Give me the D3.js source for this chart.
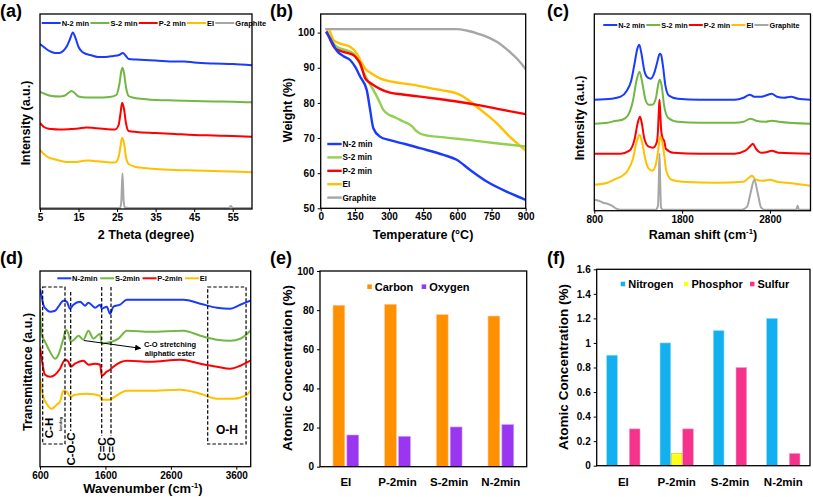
<!DOCTYPE html>
<html><head><meta charset="utf-8">
<script src="https://cdn.jsdelivr.net/npm/d3@7"></script>
<style>
body{margin:0;background:#fff}
svg text{font-family:"Liberation Sans",Arial,sans-serif;font-weight:bold;fill:#000}
</style>
</head><body>
<svg id="c" width="813" height="497"></svg>
<script>
// ---------------- DATA ----------------
const samples = ["N-2 min","S-2 min","P-2 min","EI","Graphite"];
const sampleColors = ["#1A3BFF","#72B744","#FF0000","#FFC000","#A6A6A6"];

// (a) XRD (2θ, relative intensity a.u.)
const xrdTicks = [5,15,25,35,45,55];
const xrdN = [[5,165],[6,162],[7,159],[8,157],[9,156],[10,156],[11,158],[12,163],[12.8,170],[13.5,176.5],[14.2,171],[15,162],[16,157],[17,155],[18,154],[20,152],[22,152],[24,153],[25.5,154],[26.5,156],[27.3,153],[28,150],[30,149.5],[35,148.5],[40,147.5],[42.5,147.5],[45,146.5],[50,145.5],[55,145],[60,143.7]];
const xrdS = [[5,117],[6,115.5],[8,113],[10,112.5],[11.5,113.5],[12.5,116.5],[13.2,118],[14,116],[15,112.5],[17,111.5],[20,111.5],[23,112],[24.8,114],[25.6,125],[26.1,138],[26.4,141.3],[26.8,136],[27.3,122],[28,113],[29,111.5],[32,110],[35,109],[40,108.5],[45,108],[50,107.5],[55,107.3],[60,106.7]];
const xrdP = [[5,86],[6,82],[7,80.5],[8,80],[10,79.5],[13,80],[15,80.5],[17,81.5],[19,81],[22,80],[24.5,79.5],[25.4,84],[25.9,96],[26.3,106.3],[26.8,100],[27.3,86],[28,78],[30,77],[35,76],[40,75],[45,74],[50,73.5],[55,73],[60,72.3]];
const xrdE = [[5,59],[6,55],[7,52],[8,50.5],[10,48.5],[12,47],[14,47],[16,48],[17.5,48.5],[19,48],[22,47],[24.5,46.5],[25.4,52],[25.9,63],[26.3,71.3],[26.8,66],[27.3,52],[28,45],[30,42],[32,41],[35,40],[40,39],[45,38.5],[50,38],[55,37.5],[60,36.7]];
const xrdG = [[5,1],[25.8,1],[26.1,8],[26.4,35.7],[26.7,8],[27,1.5],[28,1],[54,1],[54.5,3],[55,1],[60,1]];

// (b) TGA (°C, weight %)
const tgaTicksX = [0,150,300,450,600,750,900];
const tgaTicksY = [50,60,70,80,90,100];
const tgaN = [[23,100.2],[40,98.5],[56,96.5],[70,94.9],[100,93.3],[129,92.2],[151,90.3],[173,87.5],[202,83.7],[217,78],[231,72.8],[260,70.4],[304,69.4],[370,68.3],[436,67.1],[539,65.2],[597,63.8],[656,60.9],[729,57.6],[831,54.3],[900,52.4]];
const tgaS = [[26,100.6],[50,97.5],[70,96],[110,95],[143,94.1],[165,92],[187,88.9],[210,86],[231,83.7],[253,81],[275,78],[300,76.6],[319,76.1],[363,74.7],[400,73.4],[420,72],[436,71.3],[470,70.7],[509,70.4],[600,69.8],[656,69.4],[760,68.6],[900,67.6]];
const tgaP = [[26,100.3],[45,97.5],[63,95.5],[100,94.5],[143,93.6],[160,92.5],[173,91.3],[185,89],[195,87],[215,85.8],[231,85.1],[260,84],[304,82.9],[360,82.4],[436,81.8],[520,81.1],[597,80.4],[700,79.3],[800,78],[900,76.8]];
const tgaE = [[38,100.8],[50,98.8],[56,97.9],[90,96.8],[129,96],[158,94.1],[175,92],[195,89.8],[220,88.5],[260,87],[300,86.2],[334,85.8],[400,85.2],[480,84.2],[540,83.5],[597,82.7],[640,81.2],[685,78.9],[730,76.6],[773,74.2],[830,70.4],[900,66.4]];
const tgaG = [[20,101],[100,101],[300,101],[500,101],[597,101],[640,100.6],[685,99.8],[730,98.8],[773,97.4],[830,94.5],[870,92],[900,89.6]];

// (c) Raman (cm-1, a.u.)
const ramanTicks = [800,1800,2800];
const ramN = [[800,111],[1000,112],[1100,114],[1170,120],[1220,130],[1260,148],[1290,162],[1312,166],[1335,158],[1370,140],[1410,133],[1445,132],[1480,137],[1515,148],[1545,157],[1560,156],[1580,146],[1610,125],[1650,115],[1750,112],[2000,111],[2400,111],[2500,113],[2570,116],[2620,114],[2700,114],[2780,116],[2820,117],[2880,114],[2960,113],[3040,114],[3120,112],[3260,111]];
const ramS = [[800,87],[950,88],[1050,90],[1120,91],[1180,95],[1240,110],[1280,130],[1315,139],[1340,131],[1380,112],[1420,106],[1460,106],[1500,112],[1525,125],[1545,131],[1565,126],[1595,105],[1640,93],[1750,89],[2000,88],[2400,88],[2500,89],[2580,92],[2640,90],[2750,89],[2820,90],[2900,89],[3260,87]];
const ramP = [[800,57],[1100,57],[1200,60],[1260,72],[1295,88],[1320,94],[1340,88],[1370,72],[1420,64],[1470,63],[1510,68],[1525,80],[1535,100],[1542,111],[1550,100],[1562,80],[1580,72],[1595,70],[1615,62],[1700,58],[2000,57],[2400,57],[2520,60],[2580,65],[2605,67],[2640,62],[2700,58],[2780,59],[2820,60],[2900,58],[3260,57]];
const ramE = [[800,26],[950,28],[1050,32],[1120,35],[1180,40],[1240,52],[1280,68],[1315,76],[1345,68],[1380,52],[1420,42],[1460,40],[1500,46],[1530,62],[1550,74],[1570,70],[1590,60],[1620,40],[1680,31],[1800,29],[2200,28],[2500,29],[2560,33],[2595,35],[2640,31],[2720,30],[2800,31],[2880,29],[3000,28],[3260,25]];
const ramG = [[800,11],[850,10],[900,8],[950,7],[1000,5],[1050,2],[1100,1],[1500,1],[1525,5],[1535,30],[1542,57],[1550,30],[1560,3],[1580,1],[2480,1],[2540,4],[2580,18],[2622,31],[2660,18],[2700,3],[2740,1],[3100,1],[3115,5],[3125,2],[3140,1],[3260,1]];

// (d) FTIR (cm-1, a.u.)
const ftirNames = ["N-2min","S-2min","P-2min","EI"];
const ftirTicks = [600,1600,2600,3600];
const ftN = [[600,178],[626,170],[651,162],[702,157],[753,155],[830,156],[881,160],[957,166],[1008,165],[1059,158],[1110,162],[1212,165],[1289,161],[1340,164],[1442,159],[1518,162],[1544,158],[1620,160],[1671,153],[1722,160],[1824,162],[1927,167],[2284,167],[2794,167],[3049,163],[3304,159],[3508,158],[3661,162],[3814,166]];
const ftS = [[600,157],[626,132],[677,125],[753,115],[830,108],[881,112],[957,128],[998,137],[1034,133],[1069,125],[1120,127],[1187,131],[1263,127],[1340,136],[1416,128],[1518,133],[1544,123],[1620,124],[1697,125],[1799,128],[1927,136],[2284,135],[2794,136],[3049,131],[3304,127],[3508,126],[3661,128],[3814,136]];
const ftP = [[600,120],[626,108],[677,92],[753,90],[830,92],[906,98],[983,107],[1034,105],[1069,100],[1136,103],[1263,106],[1340,102],[1442,103],[1518,102],[1544,91],[1620,95],[1671,97],[1722,100],[1927,106],[2284,105],[2743,107],[3049,103],[3304,100],[3508,98],[3661,101],[3814,106]];
const ftE = [[600,88],[641,72],[702,63],[779,58],[855,62],[906,65],[957,76],[1008,75],[1069,70],[1136,72],[1314,73],[1518,71],[1544,67],[1671,67],[1722,69],[1927,76],[2284,76],[2743,77],[3049,73],[3304,68],[3559,68],[3763,72],[3814,76]];
const ftBoxes = [[641,982,"C-H"],[3163,3749,"O-H"]];
const ftLines = [[1069,"C-O-C"],[1543,"C=C"],[1685,"C=O"]];

// (e) XPS C/O
const groups = ["EI","P-2min","S-2min","N-2min"];
const coKeys = ["Carbon","Oxygen"];
const coColors = ["#FF9100","#9A35F2"];
const carbon = [82.5,83.0,77.7,77.0];
const oxygen = [16.2,15.5,20.3,21.5];
const coTicks = [0,20,40,60,80,100];

// (f) XPS N/P/S
const npsKeys = ["Nitrogen","Phosphor","Sulfur"];
const npsColors = ["#12B0EE","#FFFF1A","#F5338D"];
const nitrogen = [0.9,1.0,1.1,1.2];
const phosphor = [0,0.1,0,0];
const sulfur = [0.3,0.3,0.8,0.1];
const npsTicks = [0,0.2,0.4,0.6,0.8,1,1.2,1.4,1.6];

// ---------------- DRAWING ----------------
const svg = d3.select("#c");

function panelLabel(t,x,y){ svg.append("text").attr("x",x).attr("y",y).attr("font-size",18).text(t); }

function frame(x0,y0,x1,y1){
  svg.append("rect").attr("x",x0).attr("y",y0).attr("width",x1-x0).attr("height",y1-y0)
    .attr("fill","none").attr("stroke","#000").attr("stroke-width",1.3);
}

function styleAxis(g,fs){
  g.select(".domain").remove();
  g.selectAll(".tick line").attr("stroke","#000").attr("stroke-width",1);
  g.selectAll(".tick text").attr("font-size",fs).attr("fill","#000")
    .style("font-family",'"Liberation Sans",Arial,sans-serif').style("font-weight","bold");
}

function yTitle(t,x,cy,fs){
  svg.append("text").attr("transform",`translate(${x},${cy}) rotate(-90)`)
    .attr("text-anchor","middle").attr("font-size",fs).text(t);
}
function xTitle(t,cx,y,fs,sup,after){
  const tx = svg.append("text").attr("x",cx).attr("y",y).attr("text-anchor","middle").attr("font-size",fs);
  tx.append("tspan").text(t);
  if(sup){
    tx.append("tspan").attr("font-size",fs*0.62).attr("dy",-fs*0.38).text(sup);
    tx.append("tspan").attr("dy",fs*0.38).text(after);
  }
}

function lineLegend(names,colors,x0,y,len,g1,g2,fs){
  let cx = x0;
  names.forEach((n,i)=>{
    svg.append("line").attr("x1",cx).attr("x2",cx+len).attr("y1",y).attr("y2",y)
      .attr("stroke",colors[i]).attr("stroke-width",2);
    const t = svg.append("text").attr("x",cx+len+g1).attr("y",y+fs*0.36).attr("font-size",fs).text(n);
    cx += len + g1 + t.node().getComputedTextLength() + g2;
  });
}

function linePanel(o){
  const x = d3.scaleLinear().domain(o.xDomain).range([o.left,o.right]);
  const y = d3.scaleLinear().domain(o.yDomain).range([o.bottom,o.top]);
  const id = "clip"+Math.round(o.left)+"_"+Math.round(o.top);
  svg.append("clipPath").attr("id",id).append("rect")
    .attr("x",o.left).attr("y",o.top-2).attr("width",o.right-o.left).attr("height",o.bottom-o.top+2);
  const g = svg.append("g").attr("clip-path",`url(#${id})`);
  const line = d3.line().x(d=>x(d[0])).y(d=>y(d[1])).curve(d3.curveMonotoneX);
  o.series.forEach((s,i)=>{
    g.append("path").attr("d",line(s)).attr("fill","none")
      .attr("stroke",o.colors[i]).attr("stroke-width",o.sw||2).attr("stroke-linejoin","round");
  });
  const gx = svg.append("g").attr("transform",`translate(0,${o.bottom})`)
    .call(d3.axisBottom(x).tickValues(o.xTicks).tickSize(3).tickPadding(2).tickFormat(d3.format("d")));
  styleAxis(gx,10);
  if(o.yTicks){
    const gy = svg.append("g").attr("transform",`translate(${o.left},0)`)
      .call(d3.axisLeft(y).tickValues(o.yTicks).tickSize(3).tickPadding(3));
    styleAxis(gy,10);
  }
  frame(o.left,o.top,o.right,o.bottom);
  return {x,y};
}

// (a)
panelLabel("(a)",0,17);
linePanel({left:40,right:252,top:14,bottom:209,xDomain:[5,60],yDomain:[0,195],
  series:[xrdN,xrdS,xrdP,xrdE,xrdG],colors:sampleColors,xTicks:xrdTicks,sw:2});
lineLegend(samples,sampleColors,41.7,23,19,1,1.2,7.5);
yTitle("Intensity (a.u.)",30,123,12.5);
xTitle("2 Theta (degree)",146,239,12.5);

// (b)
panelLabel("(b)",270,17);
linePanel({left:320.7,right:525.7,top:14,bottom:208.3,xDomain:[0,900],yDomain:[50,105.3],
  series:[tgaG,tgaE,tgaS,tgaP,tgaN],colors:["#A6A6A6","#FFC000","#92D050","#FF0000","#1A3BFF"],
  xTicks:tgaTicksX,yTicks:tgaTicksY,sw:2.4});
samples.forEach((n,i)=>{
  const yy = 144 + i*13.4;
  const col = i===1 ? "#92D050" : sampleColors[i];
  svg.append("line").attr("x1",327.3).attr("x2",341.7).attr("y1",yy).attr("y2",yy).attr("stroke",col).attr("stroke-width",2.4);
  svg.append("text").attr("x",342.5).attr("y",yy+3).attr("font-size",8.2).text(n);
});
yTitle("Weight (%)",292,110,12.5);
xTitle("Temperature (°C)",423,239,12.5);

// (c)
panelLabel("(c)",547,17);
linePanel({left:594.3,right:810.5,top:14,bottom:210.7,xDomain:[800,3262],yDomain:[0,196.7],
  series:[ramN,ramS,ramP,ramE,ramG],colors:sampleColors,xTicks:ramanTicks,sw:2});
lineLegend(samples,sampleColors,603.3,25,14,1,1.2,7.3);
yTitle("Intensity (a.u.)",584,118,12.5);
xTitle("Raman shift (cm",703,239,12.5,"-1",")");

// (d)
panelLabel("(d)",0,264);
const pd = linePanel({left:40,right:250.7,top:271,bottom:466.7,xDomain:[600,3820],yDomain:[0,195.7],
  series:[ftN,ftS,ftP,ftE],colors:sampleColors.slice(0,4),xTicks:ftirTicks,sw:2});
lineLegend(ftirNames,sampleColors.slice(0,4),57.3,278.3,14,0.8,2.6,7.5);
ftBoxes.forEach(b=>{
  svg.append("rect").attr("x",pd.x(b[0])).attr("y",287).attr("width",pd.x(b[1])-pd.x(b[0])).attr("height",157)
    .attr("fill","none").attr("stroke","#000").attr("stroke-width",1.2).attr("stroke-dasharray","3.5,2");
});
ftLines.forEach((l,i)=>{
  svg.append("line").attr("x1",pd.x(l[0])).attr("x2",pd.x(l[0])).attr("y1",i===0?292:287).attr("y2",i===0?431:436)
    .attr("stroke","#000").attr("stroke-width",1.2).attr("stroke-dasharray","3.5,2");
  svg.append("text").attr("transform",`translate(${pd.x(l[0])+4.5},${449}) rotate(-90)`)
    .attr("text-anchor","middle").attr("font-size",11.5).text(l[1]);
});
svg.append("text").attr("transform",`translate(${pd.x(641)+10.5},${428}) rotate(-90)`)
  .attr("text-anchor","middle").attr("font-size",11.5).text("C-H");
svg.append("text").attr("transform",`translate(${pd.x(641)+19.5},${424}) rotate(-90)`)
  .attr("text-anchor","middle").attr("font-size",3.5).text("bending");
svg.append("text").attr("x",(pd.x(3163)+pd.x(3749))/2).attr("y",434).attr("text-anchor","middle")
  .attr("font-size",12).text("O-H");
svg.append("defs").append("marker").attr("id","arr").attr("viewBox","0 0 10 10").attr("refX",9).attr("refY",5)
  .attr("markerWidth",6).attr("markerHeight",6).attr("orient","auto")
  .append("path").attr("d","M0,0 L10,5 L0,10 z").attr("fill","#000");
svg.append("line").attr("x1",84).attr("y1",340.5).attr("x2",140.5).attr("y2",348.3)
  .attr("stroke","#000").attr("stroke-width",1).attr("marker-end","url(#arr)");
svg.append("text").attr("x",170).attr("y",347).attr("text-anchor","middle").attr("font-size",7.5).text("C-O stretching");
svg.append("text").attr("x",170).attr("y",355.5).attr("text-anchor","middle").attr("font-size",7.5).text("aliphatic ester");
yTitle("Transmittance (a.u.)",32,372,12.5);
xTitle("Wavenumber (cm",143,493,13,"-1",")");

// bar panels
function barPanel(o){
  const x = d3.scaleBand().domain(groups).range([o.left,o.right]);
  const y = d3.scaleLinear().domain(o.yDomain).range([o.bottom,o.top]);
  const bw = x.bandwidth();
  const inner = d3.scaleBand().domain(o.keys).range([bw/2-o.groupW/2,bw/2+o.groupW/2]).paddingInner(o.pad);
  groups.forEach((gname,gi)=>{
    o.keys.forEach((k,ki)=>{
      const v = o.values[ki][gi];
      if(v<=0) return;
      svg.append("rect").attr("x",x(gname)+inner(k)).attr("y",y(v)).attr("width",inner.bandwidth())
        .attr("height",y(0)-y(v)).attr("fill",o.colors[ki]).attr("stroke",o.strokes[ki]).attr("stroke-width",0.6);
    });
    svg.append("text").attr("x",x(gname)+bw/2).attr("y",485.5).attr("text-anchor","middle")
      .attr("font-size",11.5).text(gname);
  });
  const gy = svg.append("g").attr("transform",`translate(${o.left},0)`)
    .call(d3.axisLeft(y).tickValues(o.yTicks).tickSize(3).tickPadding(3).tickFormat(d=>String(+d.toFixed(1))));
  styleAxis(gy,10);
  frame(o.left,o.top,o.right,o.bottom);
  o.keys.forEach((k,i)=>{
    svg.append("rect").attr("x",o.legX[i]).attr("y",o.legY-2.3).attr("width",4.5).attr("height",4.6).attr("fill",o.colors[i]);
    svg.append("text").attr("x",o.legX[i]+7.5).attr("y",o.legY+3.8).attr("font-size",11).text(k);
  });
}

panelLabel("(e)",270,264);
barPanel({left:320,right:526.7,top:271,bottom:466.7,yDomain:[0,100],keys:coKeys,values:[carbon,oxygen],
  colors:coColors,strokes:["#FFC9A8","#C79BF5"],groupW:25.7,pad:0.15,yTicks:coTicks,legX:[367.3,421.7],legY:286.7});
yTitle("Atomic Concentration (%)",292,368,13.5);

panelLabel("(f)",547,264);
barPanel({left:596.7,right:810,top:269.3,bottom:465.7,yDomain:[0,1.6],keys:npsKeys,values:[nitrogen,phosphor,sulfur],
  colors:npsColors,strokes:["#8ED8F7","#E0C000","#F9A0C8"],groupW:33.3,pad:0.06,yTicks:npsTicks,legX:[620.7,684,750],legY:284});
yTitle("Atomic Concentration (%)",568,367,13.5);
</script>
</body></html>
